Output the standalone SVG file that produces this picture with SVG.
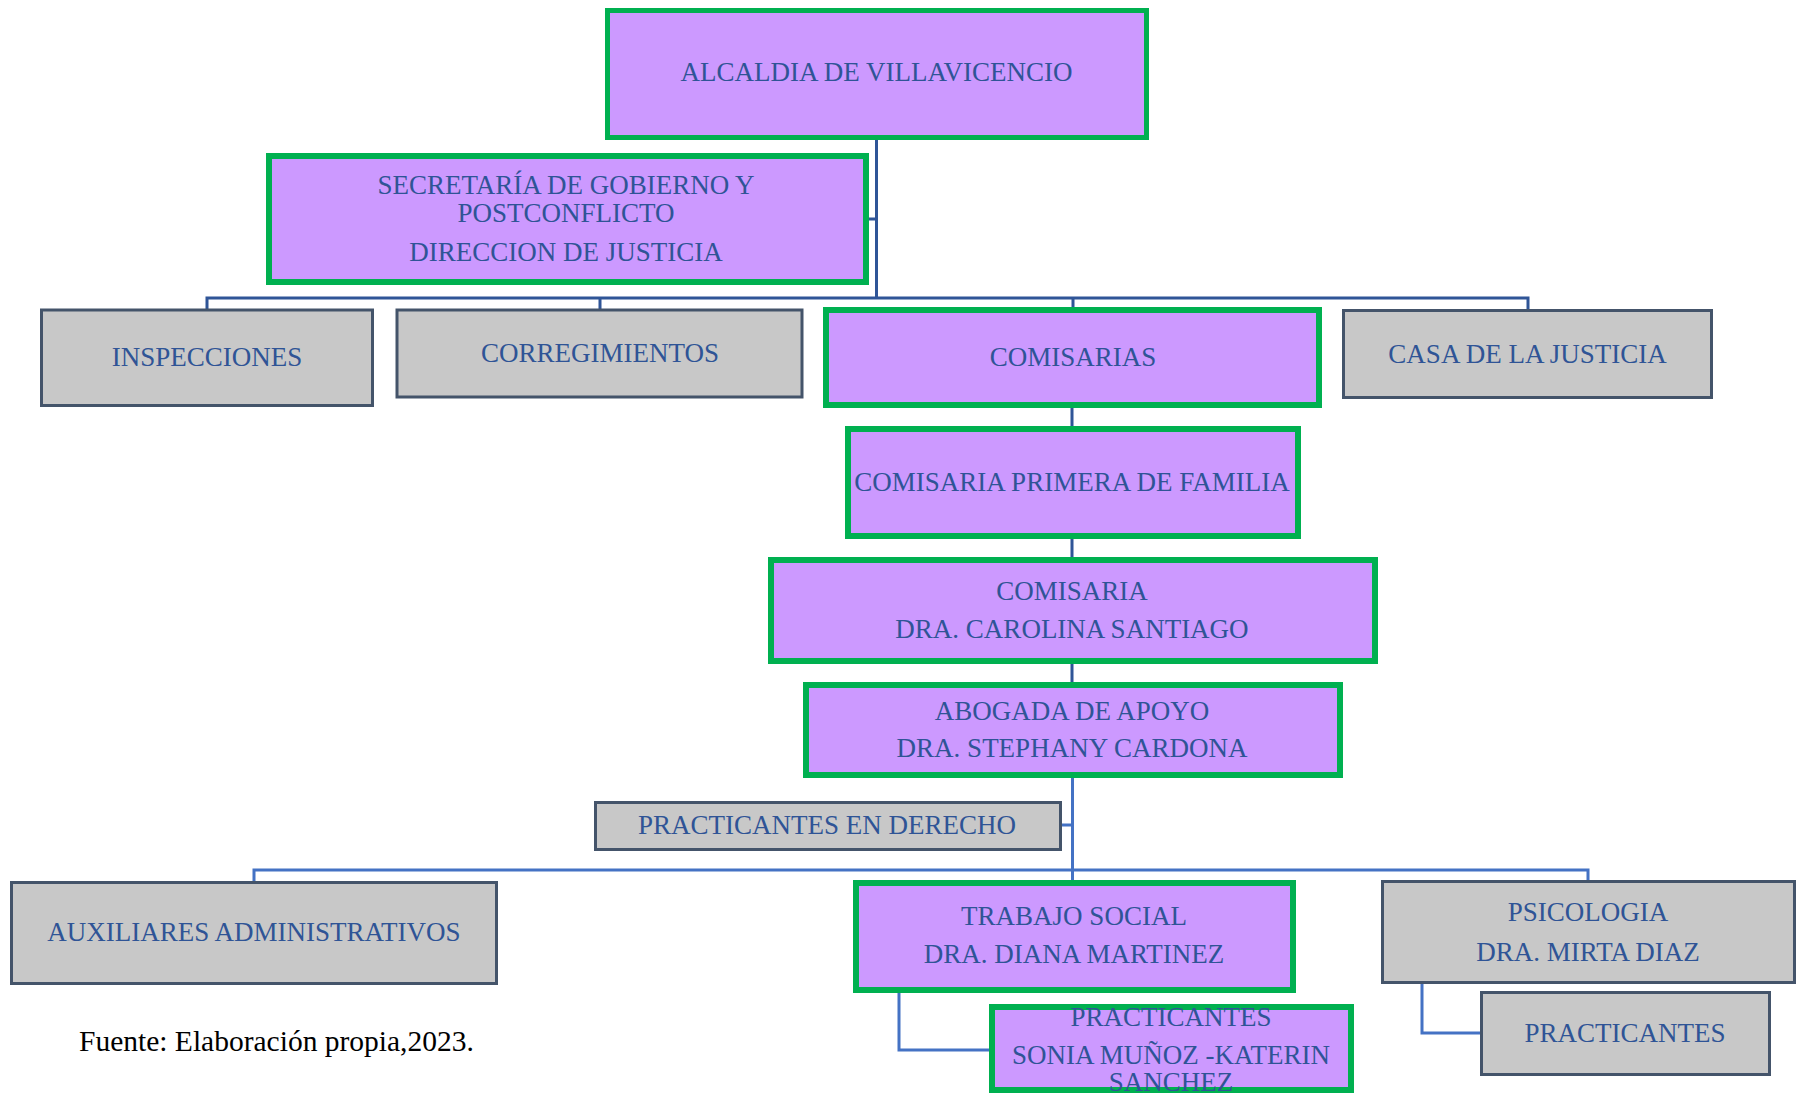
<svg xmlns="http://www.w3.org/2000/svg" width="1799" height="1094" viewBox="0 0 1799 1094">
<style>
.g{fill:#CC99FF;stroke:#00B050;stroke-width:6}
.s{fill:#C8C8C8;stroke:#44546A;stroke-width:3}
.t{font-family:'Liberation Serif','Times New Roman','DejaVu Serif',serif;font-size:27px;fill:#2F5496;text-anchor:middle;dominant-baseline:central}
.c1{stroke:#2F5597;stroke-width:3;fill:none}
.c2{stroke:#4472C4;stroke-width:3;fill:none}
.f{font-family:'Liberation Serif','Times New Roman','DejaVu Serif',serif;font-size:29.5px;fill:#000}
</style>
<rect width="1799" height="1094" fill="#fff"/>
<g id="connectors">
<path class="c1" d="M876.5 140V298M869 219H876.5M207 309V298H1528V309M600 309V298M1073 307V298"/>
<path class="c1" d="M1072 408V426M1072 539V557M1072 664V682"/>
<path class="c2" d="M1072.5 778V880M1062 825H1072.5M254 881V870H1588V880"/>
<path class="c2" d="M899 993V1050H989M1422 984V1033H1480"/>
</g>
<g id="alcaldia"><rect class="g" x="607.5" y="10.5" width="539" height="127" style="stroke-width:5"/><text class="t" x="876.5" y="72">ALCALDIA DE VILLAVICENCIO</text></g>
<g id="secretaria"><rect class="g" x="269" y="156" width="597" height="126"/><text class="t" x="566" y="185">SECRETARÍA DE GOBIERNO Y</text><text class="t" x="566" y="213">POSTCONFLICTO</text><text class="t" x="566" y="252">DIRECCION DE JUSTICIA</text></g>
<g id="inspecciones"><rect class="s" x="41.5" y="310" width="331" height="95.5"/><text class="t" x="207" y="357">INSPECCIONES</text></g>
<g id="corregimientos"><rect class="s" x="397" y="310" width="405" height="87"/><text class="t" x="600" y="353">CORREGIMIENTOS</text></g>
<g id="comisarias"><rect class="g" x="826" y="310" width="493" height="95"/><text class="t" x="1073" y="357">COMISARIAS</text></g>
<g id="casa"><rect class="s" x="1343.5" y="310.5" width="368" height="87"/><text class="t" x="1527.5" y="354">CASA DE LA JUSTICIA</text></g>
<g id="primera"><rect class="g" x="848" y="429" width="450" height="107"/><text class="t" x="1072" y="482">COMISARIA PRIMERA DE FAMILIA</text></g>
<g id="comisaria"><rect class="g" x="771" y="560" width="604" height="101"/><text class="t" x="1072" y="591">COMISARIA</text><text class="t" x="1072" y="629">DRA. CAROLINA SANTIAGO</text></g>
<g id="abogada"><rect class="g" x="806" y="685" width="534" height="90"/><text class="t" x="1072" y="711">ABOGADA DE APOYO</text><text class="t" x="1072" y="748">DRA. STEPHANY CARDONA</text></g>
<g id="practicantes-derecho"><rect class="s" x="595.5" y="802.5" width="465" height="47"/><text class="t" x="827" y="825">PRACTICANTES EN DERECHO</text></g>
<g id="auxiliares"><rect class="s" x="11.5" y="882.5" width="485" height="101"/><text class="t" x="254" y="932">AUXILIARES ADMINISTRATIVOS</text></g>
<g id="trabajo"><rect class="g" x="856" y="883" width="437" height="107"/><text class="t" x="1074" y="916">TRABAJO SOCIAL</text><text class="t" x="1074" y="954">DRA. DIANA MARTINEZ</text></g>
<g id="practicantes-ts"><rect class="g" x="992" y="1007" width="359" height="83"/><text class="t" x="1171" y="1017">PRACTICANTES</text><text class="t" x="1171" y="1055">SONIA MUÑOZ -KATERIN</text><text class="t" x="1171" y="1082">SANCHEZ</text></g>
<g id="psicologia"><rect class="s" x="1382.5" y="881.5" width="412" height="101"/><text class="t" x="1588" y="912">PSICOLOGIA</text><text class="t" x="1588" y="952">DRA. MIRTA DIAZ</text></g>
<g id="practicantes-psi"><rect class="s" x="1481.5" y="992.5" width="288" height="82"/><text class="t" x="1625" y="1033">PRACTICANTES</text></g>
<text class="f" x="79" y="1051">Fuente: Elaboración propia,2023.</text>
</svg>
